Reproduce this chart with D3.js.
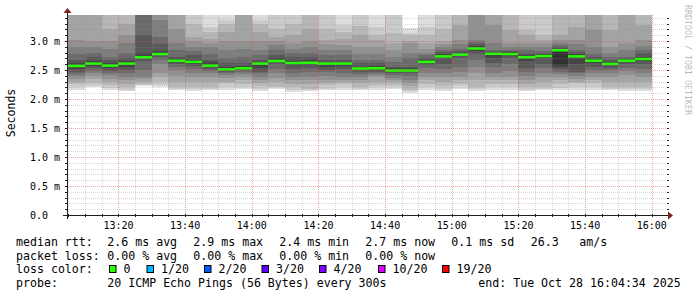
<!DOCTYPE html>
<html><head><meta charset="utf-8">
<script src="https://cdn.jsdelivr.net/npm/d3@7"></script>
<style>
html,body{margin:0;padding:0;background:#fff;}
svg{display:block;}
text{font-family:"DejaVu Sans Mono",monospace;white-space:pre;}
</style></head><body>
<svg id="c" width="697" height="297"></svg>
<script>
const day = "2025-10-28";
const rangeStart = "13:04:34";
const rangeEnd = "16:04:34";
const barEnds = ["13:05","13:10","13:15","13:20","13:25","13:30","13:35","13:40","13:45","13:50","13:55","14:00",
  "14:05","14:10","14:15","14:20","14:25","14:30","14:35","14:40","14:45","14:50","14:55","15:00",
  "15:05","15:10","15:15","15:20","15:25","15:30","15:35","15:40","15:45","15:50","15:55","16:00"];
const medians = [2.44,2.57,2.61,2.575,2.61,2.72,2.775,2.66,2.64,2.575,2.51,2.53,2.61,2.655,2.62,2.625,2.61,2.61,
  2.525,2.53,2.49,2.49,2.64,2.735,2.765,2.87,2.78,2.775,2.72,2.74,2.84,2.735,2.66,2.605,2.66,2.69];
const pingsLow = [
 [2.08,2.14,2.2,2.26,2.31,2.35,2.38,2.41,2.43,2.44],
 [2.16,2.2,2.25,2.3,2.34,2.39,2.43,2.47,2.52,2.56],
 [2.2,2.23,2.28,2.34,2.4,2.45,2.49,2.53,2.57,2.6],
 [2.15,2.19,2.24,2.29,2.35,2.41,2.45,2.49,2.53,2.565],
 [2.13,2.16,2.2,2.26,2.32,2.38,2.44,2.5,2.55,2.6],
 [2.22,2.24,2.26,2.3,2.34,2.385,2.5,2.66,2.7,2.715],
 [2.21,2.24,2.3,2.38,2.44,2.6,2.67,2.72,2.75,2.77],
 [2.155,2.18,2.21,2.3,2.4,2.5,2.56,2.6,2.63,2.65],
 [2.13,2.17,2.21,2.3,2.385,2.45,2.52,2.57,2.61,2.63],
 [2.155,2.18,2.21,2.3,2.38,2.44,2.49,2.52,2.55,2.57],
 [2.155,2.2,2.27,2.3,2.36,2.41,2.44,2.47,2.49,2.505],
 [2.18,2.21,2.26,2.32,2.385,2.43,2.47,2.5,2.515,2.525],
 [2.13,2.18,2.23,2.28,2.33,2.38,2.44,2.47,2.54,2.6],
 [2.18,2.2,2.21,2.3,2.37,2.44,2.52,2.6,2.63,2.645],
 [2.12,2.16,2.21,2.26,2.32,2.385,2.45,2.52,2.58,2.61],
 [2.14,2.16,2.18,2.25,2.32,2.385,2.46,2.54,2.6,2.62],
 [2.15,2.18,2.24,2.28,2.33,2.4,2.46,2.5,2.56,2.6],
 [2.155,2.2,2.25,2.29,2.33,2.38,2.44,2.52,2.57,2.6],
 [2.155,2.18,2.21,2.28,2.33,2.385,2.43,2.47,2.5,2.515],
 [2.155,2.2,2.24,2.3,2.38,2.41,2.44,2.47,2.5,2.52],
 [2.18,2.2,2.24,2.29,2.33,2.37,2.41,2.45,2.47,2.48],
 [2.1,2.13,2.155,2.22,2.28,2.33,2.4,2.44,2.47,2.48],
 [2.155,2.2,2.26,2.32,2.385,2.45,2.53,2.58,2.62,2.63],
 [2.13,2.17,2.22,2.3,2.385,2.45,2.52,2.6,2.7,2.73],
 [2.18,2.22,2.26,2.32,2.385,2.46,2.55,2.7,2.74,2.755],
 [2.13,2.18,2.21,2.33,2.45,2.56,2.67,2.78,2.83,2.86],
 [2.155,2.2,2.26,2.32,2.385,2.45,2.55,2.62,2.7,2.77],
 [2.155,2.2,2.26,2.33,2.385,2.48,2.6,2.7,2.74,2.77],
 [2.13,2.155,2.2,2.26,2.33,2.4,2.47,2.53,2.65,2.71],
 [2.155,2.18,2.21,2.3,2.385,2.45,2.53,2.6,2.7,2.73],
 [2.155,2.19,2.25,2.33,2.385,2.43,2.47,2.52,2.56,2.59],
 [2.155,2.2,2.27,2.3,2.35,2.4,2.44,2.47,2.6,2.72],
 [2.155,2.2,2.27,2.33,2.38,2.44,2.5,2.56,2.62,2.65],
 [2.155,2.18,2.21,2.3,2.385,2.45,2.5,2.54,2.58,2.6],
 [2.13,2.17,2.21,2.3,2.41,2.48,2.54,2.6,2.64,2.65],
 [2.13,2.17,2.21,2.3,2.385,2.45,2.52,2.6,2.65,2.68]
];
const pingsHigh = [
 [2.45,2.5,2.58,2.68,2.8,2.95,3.1,3.3,3.6,3.9],
 [2.58,2.62,2.68,2.78,2.9,3.02,3.5,3.7,3.9,4.2],
 [2.62,2.66,2.72,2.8,2.9,3.0,3.5,3.7,3.9,4.2],
 [2.585,2.62,2.67,2.73,2.86,3.0,3.2,3.6,3.8,4.0],
 [2.62,2.65,2.7,2.8,2.96,3.1,3.3,3.6,3.8,4.0],
 [2.74,2.79,3.1,3.5,3.6,3.7,3.8,3.9,4.0,4.2],
 [2.79,2.82,2.95,3.07,3.36,3.5,3.6,3.8,4.0,4.2],
 [2.67,2.7,2.73,2.85,2.96,3.2,3.5,3.6,3.8,4.0],
 [2.65,2.67,2.75,2.82,2.9,3.0,3.07,3.3,3.6,3.9],
 [2.59,2.63,2.67,2.78,2.9,2.97,3.04,3.15,3.24,3.6],
 [2.52,2.56,2.615,2.7,2.845,3.0,3.15,3.3,3.36,3.6],
 [2.54,2.57,2.62,2.73,2.86,3.0,3.6,3.7,3.8,4.0],
 [2.62,2.64,2.67,2.75,2.845,3.0,3.15,3.3,3.36,3.6],
 [2.67,2.7,2.76,2.85,2.93,3.0,3.07,3.2,3.6,3.8],
 [2.63,2.66,2.72,2.79,2.87,2.96,3.1,3.3,3.6,3.8],
 [2.64,2.67,2.72,2.79,2.9,3.0,3.2,3.6,3.8,4.0],
 [2.62,2.64,2.67,2.75,2.85,2.95,3.02,3.2,3.6,3.8],
 [2.62,2.64,2.67,2.76,2.845,2.93,3.04,3.15,3.28,3.6],
 [2.53,2.56,2.62,2.67,2.78,2.9,3.1,3.25,3.6,3.8],
 [2.54,2.57,2.62,2.67,2.78,2.9,3.02,3.1,3.24,3.6],
 [2.5,2.53,2.56,2.64,2.73,2.85,2.96,3.13,3.6,3.8],
 [2.5,2.53,2.56,2.7,2.8,2.96,3.0,3.1,3.13,3.22],
 [2.65,2.67,2.7,2.75,2.79,2.87,2.96,3.1,3.24,3.6],
 [2.75,2.78,2.81,2.845,2.9,2.94,3.0,3.2,3.6,3.8],
 [2.78,2.8,2.82,2.87,2.95,3.02,3.28,3.6,3.8,4.0],
 [2.88,2.91,2.94,2.98,3.02,3.5,3.6,3.7,3.9,4.1],
 [2.79,2.81,2.83,2.845,2.96,3.28,3.6,3.7,3.9,4.1],
 [2.79,2.81,2.83,2.845,2.9,2.96,3.19,3.6,3.8,4.0],
 [2.73,2.75,2.79,2.85,2.9,2.96,3.1,3.19,3.6,3.8],
 [2.75,2.77,2.79,2.83,2.9,2.96,3.02,3.1,3.6,3.8],
 [2.85,2.87,2.9,2.93,2.96,3.02,3.1,3.6,3.8,4.0],
 [2.75,2.78,2.81,2.845,2.94,3.02,3.24,3.6,3.8,4.0],
 [2.67,2.69,2.73,2.78,2.9,3.19,3.6,3.7,3.8,4.0],
 [2.62,2.64,2.67,2.73,2.8,2.9,3.19,3.6,3.8,4.0],
 [2.67,2.69,2.71,2.73,2.85,2.96,3.6,3.7,3.8,4.0],
 [2.7,2.73,2.79,2.845,2.92,3.02,3.28,3.6,3.8,4.0]
];
const yTicks = [0,0.5,1,1.5,2,2.5,3];
const yTickLabels = ["0.0","0.5 m","1.0 m","1.5 m","2.0 m","2.5 m","3.0 m"];
const xTicks = ["13:20","13:40","14:00","14:20","14:40","15:00","15:20","15:40","16:00"];
const yMax = 3.448;
const rttStats = ["2.6 ms avg","2.9 ms max","2.4 ms min","2.7 ms now","0.1 ms sd"];
const rttExtra = ["26.3","am/s"];
const lossStats = ["0.00 % avg","0.00 % max","0.00 % min","0.00 % now"];
const lossLabels = ["0","1/20","2/20","3/20","4/20","10/20","19/20"];
const lossColors = ["#26ff00","#00b8ff","#0059ff","#5e00ff","#7e00ff","#dd00ff","#ff0000"];
const probeText = "20 ICMP Echo Pings (56 Bytes) every 300s";
const endText = "end: Tue Oct 28 16:04:34 2025";
const watermark = "RRDTOOL / TOBI OETIKER";

const parse = d3.timeParse("%Y-%m-%d %H:%M:%S");
const t = s => parse(day + " " + (s.length === 5 ? s + ":00" : s));
const L = 67, R = 667, T = 15, B = 215;
const x = d3.scaleTime().domain([t(rangeStart), t(rangeEnd)]).range([L, R]);
const y = d3.scaleLinear().domain([0, yMax]).range([B, T]);

const svg = d3.select("#c");
svg.append("defs").append("clipPath").attr("id","plot")
  .append("rect").attr("x",L).attr("y",T).attr("width",R-L).attr("height",B-T);

const smoke = svg.append("g").attr("clip-path","url(#plot)").attr("shape-rendering","crispEdges");
const half = 10;
const shade = i => { const v = Math.floor(190/half*(half-i))+50; return d3.rgb(v,v,v).toString(); };
barEnds.forEach((e, k) => {
  const te = t(e), ts = d3.timeMinute.offset(te, -5);
  const x0 = Math.round(x(ts)), x1 = Math.round(x(te));
  for (let i = 1; i <= half; i++) {
    const lo = pingsLow[k][i-1], hi = pingsHigh[k][half-i];
    const y0 = Math.round(y(hi)), y1 = Math.round(y(lo));
    smoke.append("rect").attr("x",x0).attr("width",x1-x0).attr("y",y0).attr("height",y1-y0).attr("fill",shade(i));
  }
  smoke.append("rect").attr("x",x0).attr("width",x1-x0)
    .attr("y",y(medians[k])-1.25).attr("height",2.5).attr("fill",lossColors[0])
    .attr("shape-rendering","auto");
});

// grid on top
const grid = svg.append("g").attr("shape-rendering","crispEdges");
const minorY = d3.range(1, 35).map(v => v/10);
minorY.forEach(v => {
  const major = Math.abs(v*2 - Math.round(v*2)) < 1e-6;
  grid.append("line").attr("x1",L).attr("x2",R+1).attr("y1",Math.round(y(v))+0.5).attr("y2",Math.round(y(v))+0.5)
    .attr("stroke", major ? "rgba(222,79,79,0.5)" : "rgba(143,143,143,0.35)").attr("stroke-dasharray","1,1");
});
const minorX = x.ticks(d3.timeMinute.every(5));
minorX.forEach(d => {
  const major = d.getMinutes() % 20 === 0;
  const xx = Math.round(x(d)) + 0.5;
  grid.append("line").attr("x1",xx).attr("x2",xx).attr("y1",T).attr("y2",B)
    .attr("stroke", major ? "rgba(222,79,79,0.5)" : "rgba(143,143,143,0.35)").attr("stroke-dasharray","1,1");
});

// axes
const ax = svg.append("g").attr("shape-rendering","crispEdges");
ax.append("line").attr("x1",L-4).attr("x2",R+2).attr("y1",B+0.5).attr("y2",B+0.5).attr("stroke","#1f1f1f");
ax.append("line").attr("x1",L+0.5).attr("x2",L+0.5).attr("y1",B+4).attr("y2",T-3).attr("stroke","#1f1f1f");
minorY.forEach(v => {
  const yy = Math.round(y(v))+0.5;
  ax.append("line").attr("x1",L-2).attr("x2",L+1).attr("y1",yy).attr("y2",yy).attr("stroke","#1f1f1f");
  ax.append("line").attr("x1",R).attr("x2",R+2).attr("y1",yy).attr("y2",yy).attr("stroke","#1f1f1f");
});
minorX.forEach(d => {
  const xx = Math.round(x(d)) + 0.5;
  ax.append("line").attr("x1",xx).attr("x2",xx).attr("y1",B-1).attr("y2",B+2).attr("stroke","#1f1f1f");
});
svg.append("path").attr("d", `M${R+1},${B-3.5}L${R+6},${B+0.5}L${R+1},${B+4.5}Z`).attr("fill","#801f1f");
svg.append("path").attr("d", `M${L-3.5},${T-2}L${L+0.5},${T-7}L${L+4.5},${T-2}Z`).attr("fill","#801f1f");

// axis labels
yTicks.forEach((v, i) => {
  svg.append("text").attr("x",30).attr("y",y(v)).attr("dy","0.36em").attr("font-size",10).attr("fill","#000").text(yTickLabels[i]);
});
xTicks.forEach(s => {
  svg.append("text").attr("x",x(t(s))).attr("y",225).attr("dy","0.36em").attr("text-anchor","middle").attr("font-size",10).attr("fill","#000").text(s);
});
svg.append("text").attr("transform","translate(11,113) rotate(-90)").attr("text-anchor","middle").attr("dy","0.36em")
  .attr("font-size",11.5).attr("fill","#000").text("Seconds");
svg.append("text").attr("transform","translate(688,5) rotate(90)").attr("dy","0.36em")
  .attr("font-size",8.3).attr("fill","rgba(0,0,0,0.3)").text(watermark);

// legend
const lf = 11.6, cx = 16, vx = 107.3, step = 86;
const leg = (xx, yy, s) => svg.append("text").attr("x",xx).attr("y",yy).attr("dy","0.36em").attr("font-size",lf).attr("fill","#000").text(s);
leg(cx, 241.5, "median rtt:");
rttStats.forEach((s,i) => leg(vx + step*i, 241.5, s));
leg(530.7, 241.5, rttExtra[0]);
leg(579.3, 241.5, rttExtra[1]);
leg(cx, 255.5, "packet loss:");
lossStats.forEach((s,i) => leg(vx + step*i, 255.5, s));
leg(cx, 269, "loss color:");
const boxX = [109.5,147,204.5,262,319.5,378.5,442.5];
lossLabels.forEach((s,i) => {
  svg.append("rect").attr("x",boxX[i]).attr("y",265.5).attr("width",6.5).attr("height",7)
    .attr("fill",lossColors[i]).attr("stroke","#000").attr("stroke-width",1);
  leg(boxX[i] + 14, 269, s);
});
leg(cx, 283, "probe:");
leg(vx, 283, probeText);
leg(478.3, 283, endText);
</script>
</body></html>
